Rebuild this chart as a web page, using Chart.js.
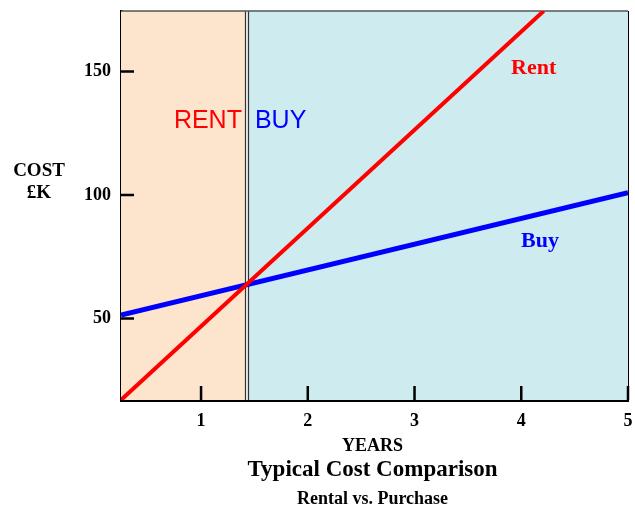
<!DOCTYPE html>
<html>
<head>
<meta charset="utf-8">
<script src="https://cdn.jsdelivr.net/npm/chart.js@4"></script>
<style>
  html, body { margin: 0; padding: 0; background: #fff; }
  #wrap { width: 635px; height: 508px; position: relative; }
</style>
</head>
<body>
<div id="wrap"><canvas id="costChart"></canvas></div>
<script>
// Valorile graficului
const rentYears = [0.25, 4.21];
const rentCost = [17, 174.5];
const buyYears = [0.25, 5];
const buyCost = [51.4, 100.9];
const xTicks = [1, 2, 3, 4, 5];
const yTicks = [50, 100, 150];
const xRange = [0.25, 5];
const yRange = [17, 174.5];
const breakEvenYear = 1.43;

const SERIF = "'Liberation Serif', 'Times New Roman', serif";
const SANS = "'Liberation Sans', Arial, sans-serif";

function toPoints(xs, ys) {
    return xs.map((x, i) => ({ x: x, y: ys[i] }));
}

// Fundalul zonelor, ramele, tick-urile spre interior si textele
const decorPlugin = {
    id: "decor",
    beforeDatasetsDraw(chart) {
        const { ctx, chartArea: a, scales } = chart;
        const xDiv = scales.x.getPixelForValue(breakEvenYear);
        ctx.save();
        ctx.fillStyle = "#fde4cc";
        ctx.fillRect(a.left, a.top, xDiv - a.left, a.bottom - a.top);
        ctx.fillStyle = "#ceecf0";
        ctx.fillRect(xDiv, a.top, a.right - xDiv, a.bottom - a.top);
        // linie dubla intre zone
        ctx.fillStyle = "#f4f4f4";
        ctx.fillRect(xDiv - 1, a.top, 2, a.bottom - a.top);
        ctx.strokeStyle = "#333";
        ctx.lineWidth = 1.2;
        ctx.beginPath();
        ctx.moveTo(Math.round(xDiv) - 1.5, a.top);
        ctx.lineTo(Math.round(xDiv) - 1.5, a.bottom);
        ctx.moveTo(Math.round(xDiv) + 1.5, a.top);
        ctx.lineTo(Math.round(xDiv) + 1.5, a.bottom);
        ctx.stroke();
        // rama sus si dreapta
        ctx.strokeStyle = "#555";
        ctx.lineWidth = 1.5;
        ctx.beginPath();
        ctx.moveTo(a.left, a.top);
        ctx.lineTo(a.right, a.top);
        ctx.stroke();
        ctx.strokeStyle = "#000";
        ctx.lineWidth = 1;
        ctx.beginPath();
        ctx.moveTo(a.right + 0.5, a.top);
        ctx.lineTo(a.right + 0.5, a.bottom);
        ctx.stroke();
        // tick-uri spre interior
        ctx.strokeStyle = "#000";
        ctx.lineWidth = 2.5;
        ctx.beginPath();
        yTicks.forEach(v => {
            const y = scales.y.getPixelForValue(v);
            ctx.moveTo(a.left, y);
            ctx.lineTo(a.left + 13, y);
        });
        xTicks.forEach(v => {
            const x = scales.x.getPixelForValue(v);
            ctx.moveTo(x, a.bottom);
            ctx.lineTo(x, a.bottom - 14);
        });
        ctx.stroke();
        ctx.restore();
    },
    afterDraw(chart) {
        const { ctx, chartArea: a, scales } = chart;
        const xDiv = scales.x.getPixelForValue(breakEvenYear);
        const midX = (a.left + a.right) / 2;
        ctx.save();
        ctx.textBaseline = "alphabetic";

        ctx.font = "25px " + SANS;
        ctx.fillStyle = "#ff0000";
        ctx.textAlign = "right";
        ctx.fillText("RENT", xDiv - 5, 128);
        ctx.fillStyle = "#0000ff";
        ctx.textAlign = "left";
        ctx.fillText("BUY", xDiv + 8, 128);

        ctx.font = "bold 22px " + SERIF;
        ctx.textAlign = "left";
        ctx.fillStyle = "#ff0000";
        ctx.fillText("Rent", 511, 74);
        ctx.fillStyle = "#0000ff";
        ctx.fillText("Buy", 521, 247);

        ctx.fillStyle = "#000";
        ctx.textAlign = "center";
        ctx.font = "bold 19px " + SERIF;
        ctx.fillText("COST", 39, 176);
        ctx.fillText("£K", 39, 198);

        ctx.font = "bold 18px " + SERIF;
        ctx.fillText("YEARS", midX - 2, 451);
        ctx.font = "bold 23px " + SERIF;
        ctx.fillText("Typical Cost Comparison", midX - 2, 476);
        ctx.font = "bold 18px " + SERIF;
        ctx.fillText("Rental vs. Purchase", midX - 2, 504);
        ctx.restore();
    }
};

const ctx = document.getElementById("costChart").getContext("2d");
const costChart = new Chart(ctx, {
    type: "line",
    data: {
        datasets: [{
            label: "Rent",
            data: toPoints(rentYears, rentCost),
            borderColor: "#ff0000",
            borderWidth: 4,
            pointRadius: 0,
            tension: 0
        }, {
            label: "Buy",
            data: toPoints(buyYears, buyCost),
            borderColor: "#0000ff",
            borderWidth: 5,
            pointRadius: 0,
            tension: 0
        }]
    },
    options: {
        responsive: true,
        maintainAspectRatio: false,
        animation: false,
        layout: { autoPadding: false, padding: { left: 0, top: 11, right: 7, bottom: 0 } },
        plugins: {
            legend: { display: false },
            tooltip: { enabled: false },
            title: { display: false }
        },
        scales: {
            x: {
                type: "linear",
                min: xRange[0],
                max: xRange[1],
                afterBuildTicks: s => { s.ticks = xTicks.map(v => ({ value: v })); },
                afterFit: s => {
                    s.height = 108;
                    s.paddingLeft = 0;
                    s.paddingRight = 0;
                },
                grid: { display: false, drawTicks: false },
                border: { display: true, color: "#000", width: 3 },
                ticks: {
                    padding: 11,
                    color: "#000",
                    maxRotation: 0,
                    font: { family: SERIF, size: 18, weight: "bold" }
                }
            },
            y: {
                type: "linear",
                min: yRange[0],
                max: yRange[1],
                afterBuildTicks: s => { s.ticks = yTicks.map(v => ({ value: v })); },
                afterFit: s => {
                    s.width = 121;
                    s.paddingTop = 0;
                    s.paddingBottom = 0;
                },
                grid: { display: false, drawTicks: false },
                border: { display: true, color: "#000", width: 3 },
                ticks: {
                    padding: 10,
                    color: "#000",
                    font: { family: SERIF, size: 18, weight: "bold" }
                }
            }
        }
    },
    plugins: [decorPlugin]
});
</script>
</body>
</html>
